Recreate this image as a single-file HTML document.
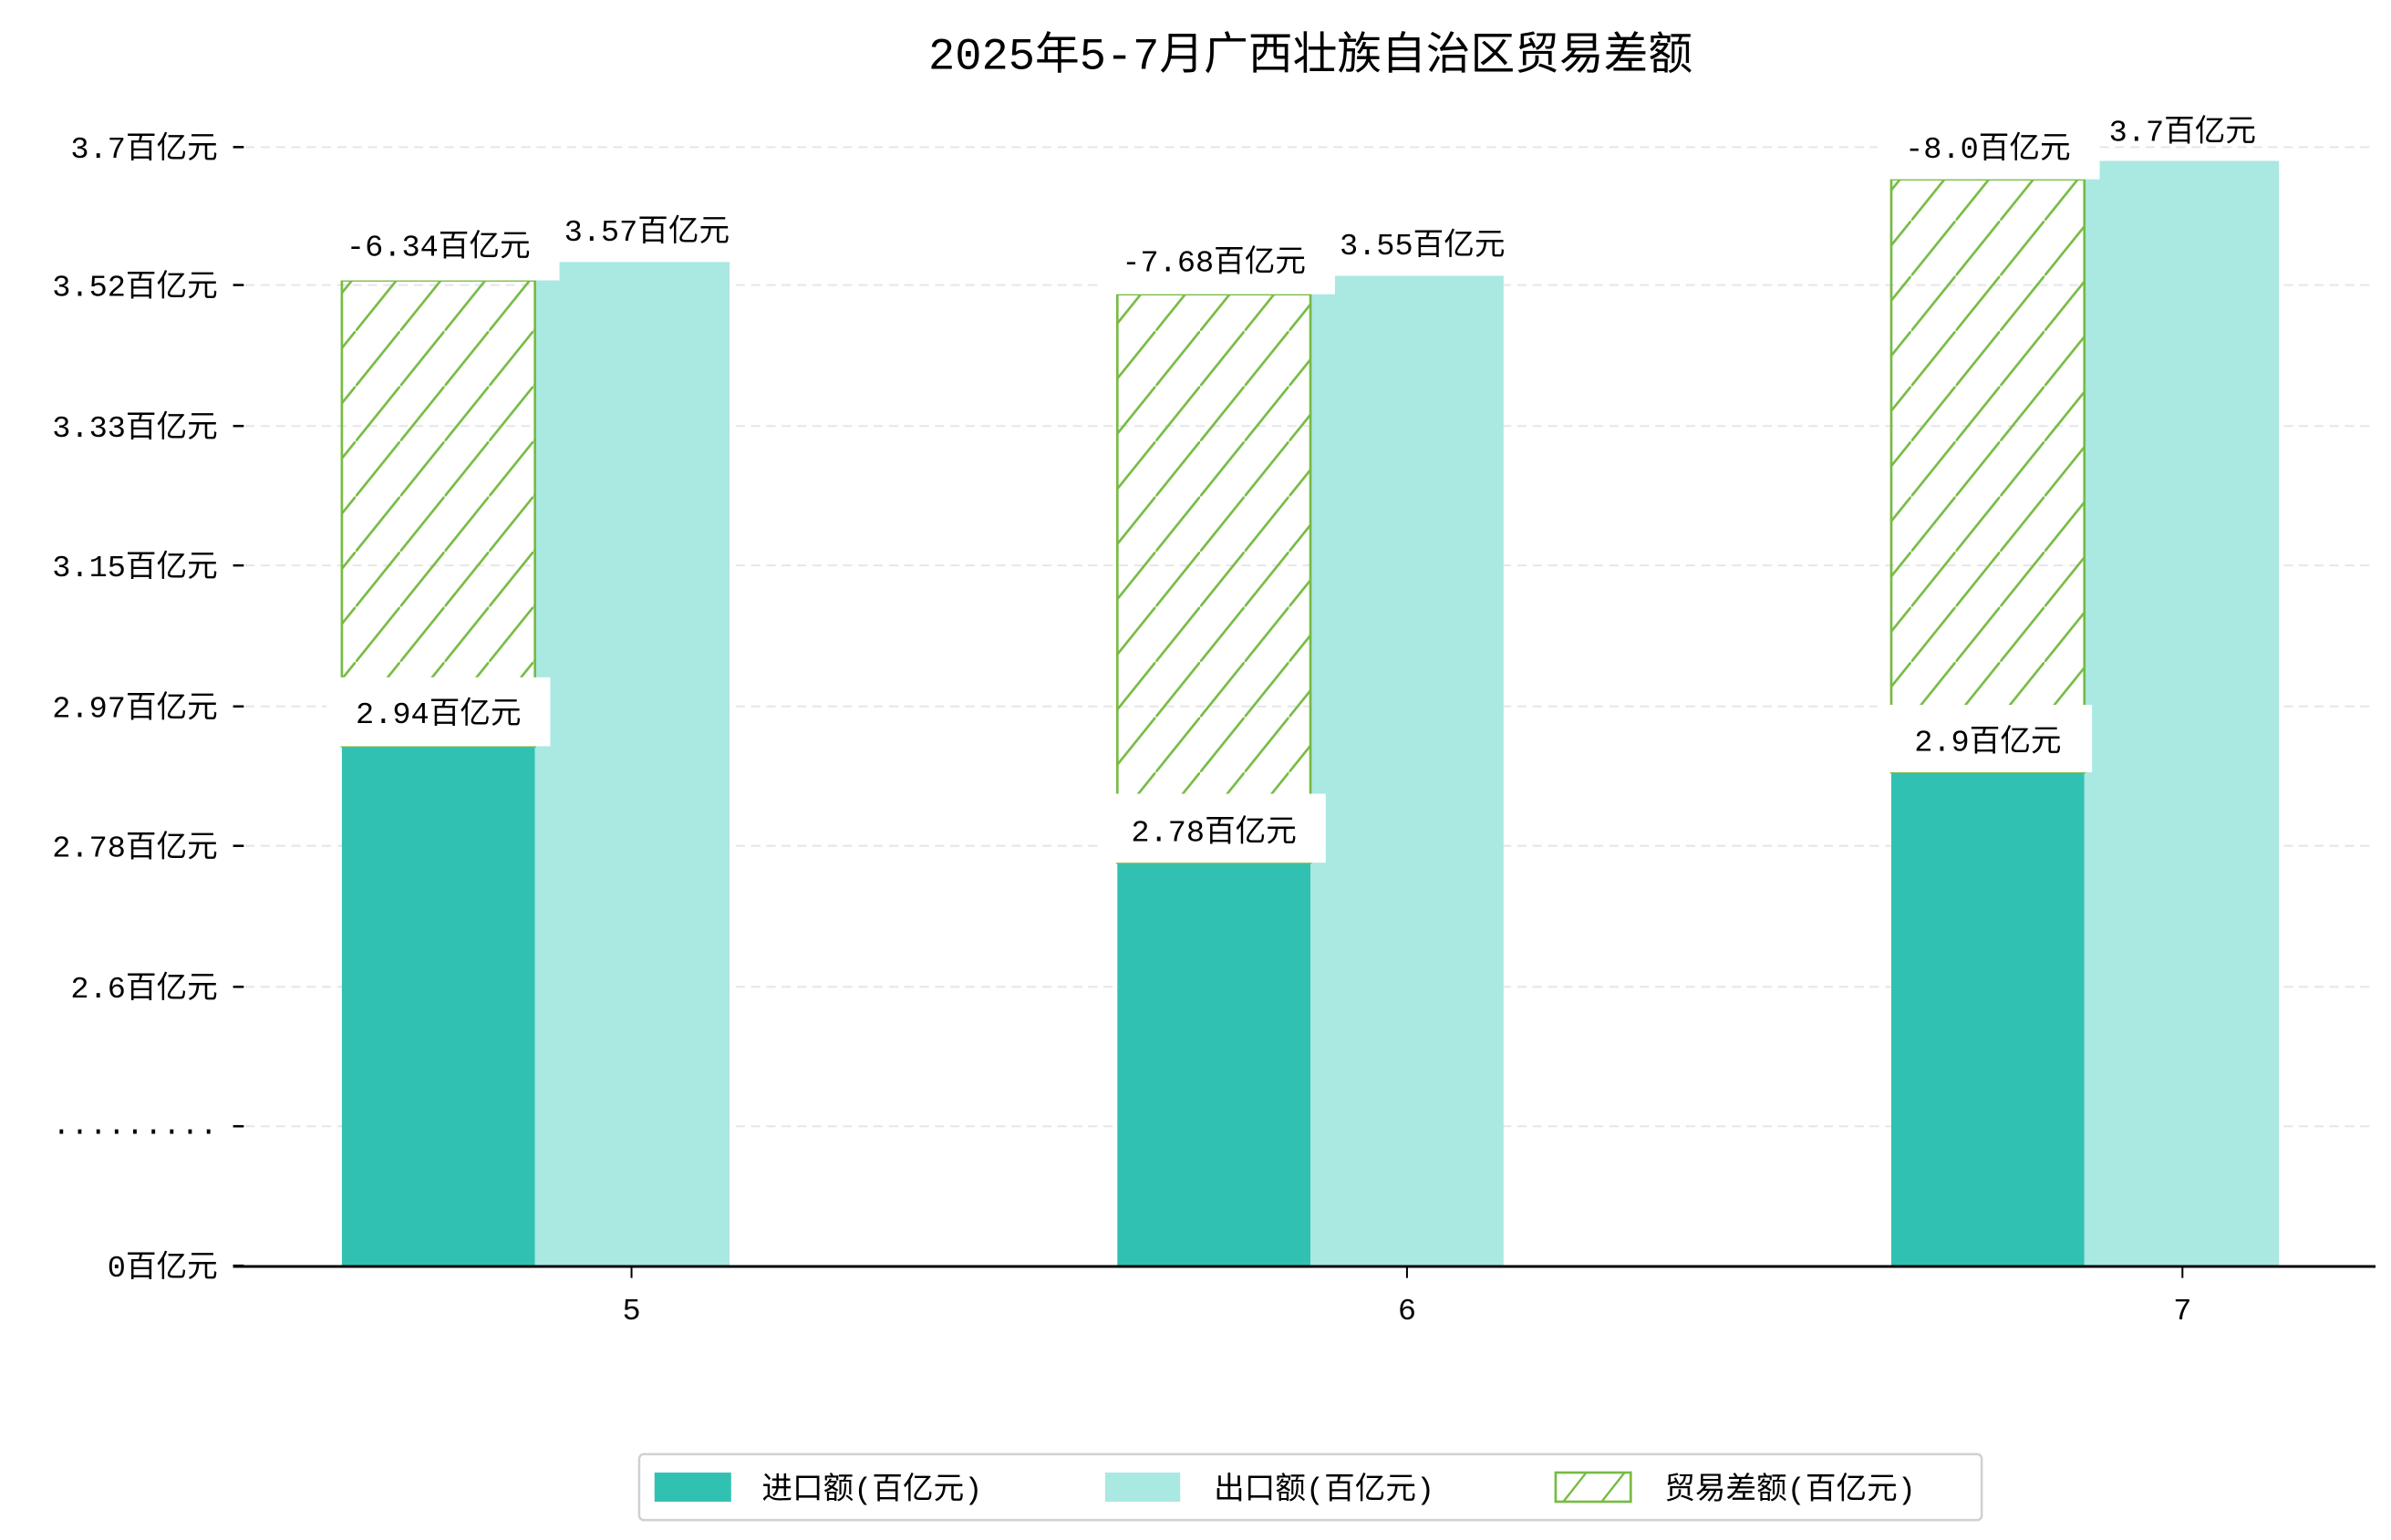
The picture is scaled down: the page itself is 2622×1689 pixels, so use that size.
<!DOCTYPE html>
<html><head><meta charset="utf-8"><style>
html,body{margin:0;padding:0;background:#fff;}
svg{display:block;}
text{font-family:"Liberation Mono","Noto Sans CJK SC",monospace;fill:#000;}
</style></head><body>
<svg width="2622" height="1689" viewBox="0 0 1560 1005" xmlns="http://www.w3.org/2000/svg">
<defs>
<pattern id="h2" patternUnits="userSpaceOnUse" width="29" height="36">
<line x1="0" y1="36" x2="29" y2="0" stroke="#77bb44" stroke-width="1.6"/>
</pattern>
</defs>
<text x="855" y="45" font-size="29" text-anchor="middle">2025年5-7月广西壮族自治区贸易差额</text>
<g stroke="#e6e6e6" stroke-width="1.2" stroke-dasharray="6,4">
<line x1="160" y1="96" x2="1550" y2="96"/><line x1="160" y1="186" x2="1550" y2="186"/>
<line x1="160" y1="278" x2="1550" y2="278"/><line x1="160" y1="369" x2="1550" y2="369"/>
<line x1="160" y1="461" x2="1550" y2="461"/><line x1="160" y1="552" x2="1550" y2="552"/>
<line x1="160" y1="644" x2="1550" y2="644"/><line x1="160" y1="735" x2="1550" y2="735"/>
</g>
<g stroke="#000" stroke-width="1.5">
<line x1="152" y1="96" x2="159" y2="96"/><line x1="152" y1="186" x2="159" y2="186"/>
<line x1="152" y1="278" x2="159" y2="278"/><line x1="152" y1="369" x2="159" y2="369"/>
<line x1="152" y1="461" x2="159" y2="461"/><line x1="152" y1="552" x2="159" y2="552"/>
<line x1="152" y1="644" x2="159" y2="644"/><line x1="152" y1="735" x2="159" y2="735"/>
<line x1="152" y1="826" x2="159" y2="826"/>
</g>
<g font-size="20" text-anchor="end">
<text x="142" y="103">3.7百亿元</text><text x="142" y="193">3.52百亿元</text>
<text x="142" y="285">3.33百亿元</text><text x="142" y="376">3.15百亿元</text>
<text x="142" y="468">2.97百亿元</text><text x="142" y="559">2.78百亿元</text>
<text x="142" y="651">2.6百亿元</text><text x="142" y="740">.........</text>
<text x="142" y="833">0百亿元</text>
</g>
<rect x="223" y="487" width="126" height="339" fill="#31c1b3"/>
<rect x="349" y="171" width="127" height="655" fill="#aae8e2"/>
<rect x="223" y="183" width="126" height="304" fill="url(#h2)" stroke="#77bb44" stroke-width="1.6"/>
<rect x="729" y="563" width="126" height="263" fill="#31c1b3"/>
<rect x="855" y="180" width="126" height="646" fill="#aae8e2"/>
<rect x="729" y="192" width="126" height="371" fill="url(#h2)" stroke="#77bb44" stroke-width="1.6"/>
<rect x="1234" y="504" width="126" height="322" fill="#31c1b3"/>
<rect x="1360" y="105" width="127" height="721" fill="#aae8e2"/>
<rect x="1234" y="117" width="126" height="387" fill="url(#h2)" stroke="#77bb44" stroke-width="1.6"/>
<g font-size="20" text-anchor="middle">
<text x="422" y="157">3.57百亿元</text>
<text x="928" y="166">3.55百亿元</text>
<text x="1424" y="92">3.7百亿元</text>
<rect x="213" y="442" width="146" height="45" fill="#fff"/><text x="286" y="472">2.94百亿元</text>
<rect x="210" y="143" width="155" height="40" fill="#fff"/><text x="286" y="167">-6.34百亿元</text>
<rect x="719" y="518" width="146" height="45" fill="#fff"/><text x="792" y="549">2.78百亿元</text>
<rect x="716" y="152" width="155" height="40" fill="#fff"/><text x="792" y="177">-7.68百亿元</text>
<rect x="1225" y="460" width="140" height="44" fill="#fff"/><text x="1297" y="490">2.9百亿元</text>
<rect x="1225" y="77" width="145" height="40" fill="#fff"/><text x="1297" y="103">-8.0百亿元</text>
</g>
<line x1="152" y1="826.5" x2="1550" y2="826.5" stroke="#000" stroke-width="1.8"/>
<g stroke="#000" stroke-width="1.2"><line x1="412" y1="827" x2="412" y2="834"/><line x1="918" y1="827" x2="918" y2="834"/><line x1="1424" y1="827" x2="1424" y2="834"/></g>
<g font-size="20" text-anchor="middle"><text x="412" y="861">5</text><text x="918" y="861">6</text><text x="1424" y="861">7</text></g>
<rect x="417" y="949" width="876" height="43" rx="3" fill="#fff" stroke="#d0d0d0" stroke-width="1.5"/>
<rect x="427" y="961" width="50" height="19" fill="#31c1b3"/>
<text x="497" y="978" font-size="20">进口额(百亿元)</text>
<rect x="721" y="961" width="49" height="19" fill="#aae8e2"/>
<text x="792" y="978" font-size="20">出口额(百亿元)</text>
<rect x="1015" y="961" width="49" height="19" fill="#fff" stroke="#77bb44" stroke-width="1.6"/>
<path d="M1020,980 L1035,961 M1045,980 L1060,961" stroke="#77bb44" stroke-width="1.4"/>
<text x="1086" y="978" font-size="20">贸易差额(百亿元)</text>
</svg>
</body></html>
